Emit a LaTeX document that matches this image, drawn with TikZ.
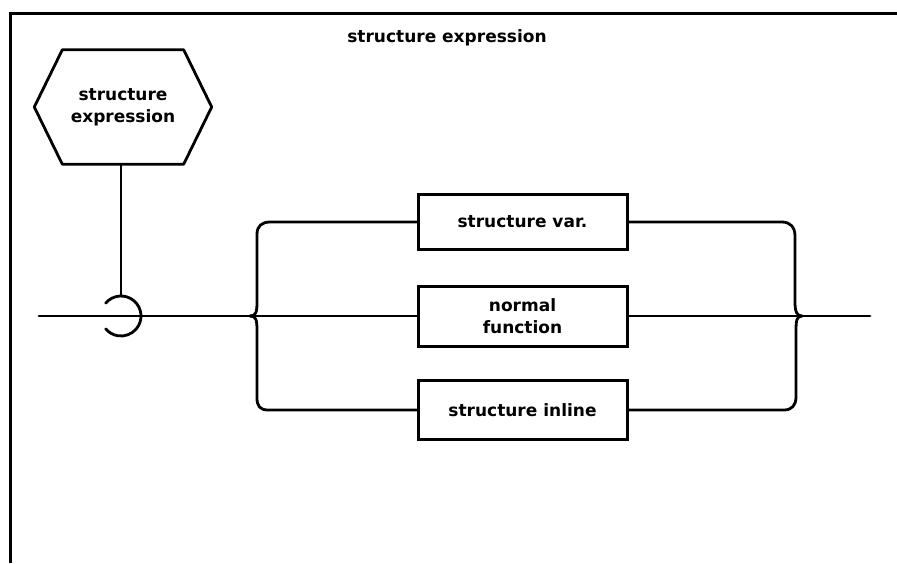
\documentclass[tikz,border=0pt]{standalone}
\usepackage{fontspec}
\setmainfont{DejaVu Sans}
\newcommand\dlabfont{\fontsize{17}{22}\selectfont\bfseries}
\begin{document}
\begin{tikzpicture}[x=1pt,y=-1pt,
  line/.style={line width=2.8pt, line join=round, line cap=round},
  box/.style={draw, line width=3pt, minimum width=209pt, inner sep=0pt, align=center, font=\dlabfont},
  lbl/.style={font=\dlabfont, align=center, inner sep=0pt}]
\useasboundingbox (0,0) rectangle (897,563);
% frame
\draw[line width=3pt] (10,563) -- (10,13) -- (897,13);
% title
\node[lbl] (title) at (447,38) {structure expression};
% hexagon
\node[lbl, minimum width=121pt, minimum height=114pt] (hex) at (123,107) {structure\\expression};
\draw[line] (hex.north west) -- (hex.north east) -- ([xshift=28pt]hex.east) -- (hex.south east) -- (hex.south west) -- ([xshift=-28pt]hex.west) -- cycle;
% boxes
\node[box, minimum height=55pt] (b1) at (522.5,222) {structure var.};
\node[box, minimum height=60pt] (b2) at (522.5,316) {normal\\function};
\node[box, minimum height=59pt] (b3) at (522.5,410) {structure inline};
% coordinates
\coordinate (j) at (121,316);
\coordinate (L) at (39,316);
\coordinate (R) at (870,316);
\coordinate (lc) at (250,316);
\coordinate (rc) at (802,316);
% hexagon stem and hook
\draw[line] (hex.south -| j) -- ([yshift=20pt]j);
\draw[line] ([shift={(140:20pt)}]j) arc[start angle=140,end angle=-140,radius=20pt];
% main line
\draw[line] (L) -- (b2.west);
\draw[line] (b2.east) -- (R);
% left brace
\draw[line] (b1.west) -- (270,222) .. controls (262,222) and (257,226) .. (257,234) -- (257,302) .. controls (257,312) and (256,316) .. (lc);
\draw[line] (lc) .. controls (256,316) and (257,320) .. (257,330) -- (257,398) .. controls (257,406) and (260,410) .. (268,410) -- (b3.west);
% right brace
\draw[line] (b1.east) -- (782,222) .. controls (790,222) and (795,227) .. (795,236) -- (795,302) .. controls (795,312) and (797,316) .. (rc);
\draw[line] (rc) .. controls (797,316) and (796,320) .. (796,330) -- (796,397) .. controls (796,405) and (792,410) .. (784,410) -- (b3.east);
\end{tikzpicture}
\end{document}
